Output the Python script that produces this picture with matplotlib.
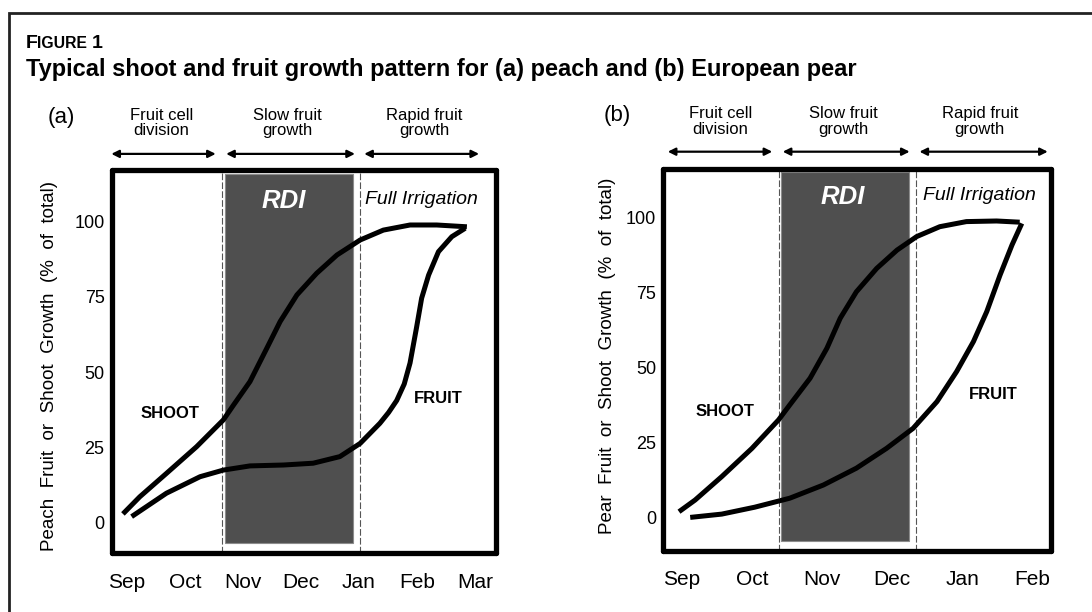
import matplotlib
matplotlib.use('Agg')
import matplotlib.pyplot as plt
from matplotlib.patches import Rectangle

plt.rcParams['font.family'] = ['Liberation Sans', 'DejaVu Sans']

# month labels on the x axes
peach_months = ['Sep', 'Oct', 'Nov', 'Dec', 'Jan', 'Feb', 'Mar']
pear_months = ['Sep', 'Oct', 'Nov', 'Dec', 'Jan', 'Feb']
y_ticks = [0, 25, 50, 75, 100]

# growth curves, % of total, x in months from Sep
peach_shoot_x = [-0.07, 0.22, 0.68, 1.20, 1.66, 1.83, 2.12, 2.41, 2.64, 2.93, 3.27, 3.62, 4.02, 4.42, 4.88, 5.34, 5.86]
peach_shoot_y = [2.7, 8.4, 16.2, 25.1, 34.0, 38.8, 46.8, 57.9, 66.8, 75.7, 82.9, 89.0, 94.0, 97.3, 99.0, 99.0, 98.4]
peach_fruit_x = [0.08, 0.68, 1.26, 1.66, 2.12, 2.70, 3.21, 3.67, 4.02, 4.36, 4.51, 4.65, 4.78, 4.88, 4.99, 5.08, 5.20, 5.37, 5.60, 5.83]
peach_fruit_y = [1.8, 9.6, 15.1, 17.3, 18.7, 19.0, 19.6, 21.8, 26.2, 32.9, 36.5, 40.5, 46.0, 53.0, 64.6, 74.6, 82.3, 90.1, 95.1, 97.9]

pear_shoot_x = [-0.04, 0.19, 0.57, 1.00, 1.38, 1.54, 1.83, 2.07, 2.26, 2.49, 2.78, 3.07, 3.35, 3.68, 4.06, 4.49, 4.82]
pear_shoot_y = [2.0, 5.9, 13.7, 23.1, 32.6, 37.6, 46.5, 56.5, 66.5, 75.3, 83.1, 89.2, 93.7, 97.0, 98.7, 98.9, 98.5]
pear_fruit_x = [0.12, 0.57, 1.04, 1.54, 2.02, 2.49, 2.92, 3.30, 3.64, 3.92, 4.16, 4.35, 4.54, 4.71, 4.85]
pear_fruit_y = [0.1, 1.2, 3.5, 6.5, 10.9, 16.5, 23.1, 29.8, 38.7, 48.7, 58.7, 68.7, 80.9, 90.9, 98.1]

# RDI period and irrigation boundaries (months from Sep)
peach_rdi = (1.69, 3.90)
peach_bounds = (1.64, 4.02)
pear_rdi = (1.415, 3.24)
pear_bounds = (1.38, 3.34)

# growth stages
stage_names = ['Fruit cell\ndivision', 'Slow fruit\ngrowth', 'Rapid fruit\ngrowth']
peach_stages = [(-0.27, 1.53), (1.71, 3.93), (4.09, 6.07)]
pear_stages = [(-0.20, 1.29), (1.44, 3.25), (3.39, 5.22)]

W, H = 1092, 612
fig = plt.figure(figsize=(W / 100, H / 100), dpi=100)

# outer frame (only left and top visible)
fig.patches.append(Rectangle((9 / W, -0.2), 1.2, 1.2 - 12.5 / H, transform=fig.transFigure,
                             fill=False, lw=2, ec='#222222'))

fig.text(26 / W, 1 - 48.5 / H, 'F', fontsize=14, fontweight='bold', va='baseline')
fig.text(37.5 / W, 1 - 48.5 / H, 'IGURE', fontsize=11.3, fontweight='bold', va='baseline')
fig.text(91.5 / W, 1 - 48.5 / H, '1', fontsize=14, fontweight='bold', va='baseline')
fig.text(26 / W, 1 - 76 / H,
         'Typical shoot and fruit growth pattern for (a) peach and (b) European pear',
         fontsize=17, fontweight='bold', va='baseline')


def draw_panel(rect, months, shoot_x, shoot_y, fruit_x, fruit_y, rdi, bounds, stages,
               xlim, ylim, ylabel, ylab_pos, tag, tag_xy, stage_x, stage_y, arrow_y,
               rdi_x, full_x, shoot_lab, fruit_lab, shade_y):
    ax = fig.add_axes(rect)
    ax.set_xlim(*xlim)
    ax.set_ylim(*ylim)
    for s in ax.spines.values():
        s.set_linewidth(3.8)
        s.set_color('black')
        s.set_capstyle('round')
    ax.add_patch(Rectangle((rdi[0], shade_y[0]), rdi[1] - rdi[0], shade_y[1] - shade_y[0],
                           fc='#4f4f4f', ec='#8c8c8c', lw=0.8, zorder=1))
    for b in bounds:
        ax.axvline(b, color='#555555', lw=0.8, ls=(0, (6, 2)), zorder=1)
    for xs, ys in [(shoot_x, shoot_y), (fruit_x, fruit_y)]:
        ax.plot(xs, ys, color='black', lw=3.6, solid_capstyle='butt',
                solid_joinstyle='round', zorder=3)

    ax.set_xticks(range(len(months)))
    ax.set_xticklabels(months, fontsize=15)
    ax.set_yticks(y_ticks)
    ax.set_yticklabels([str(v) for v in y_ticks], fontsize=13)
    ax.tick_params(axis='x', length=0, pad=14)
    ax.tick_params(axis='y', length=0, pad=5)
    ax.set_ylabel(ylabel, fontsize=13.5)
    ax.yaxis.set_label_coords(*ylab_pos)

    ax.text(rdi_x, 107, 'RDI', color='white', fontsize=18.5, fontweight='bold',
            fontstyle='italic', ha='center', va='center', zorder=2)
    ax.text(full_x, 107.5, 'Full Irrigation', fontsize=14, fontstyle='italic',
            ha='center', va='center')
    ax.text(shoot_lab[0], shoot_lab[1], 'SHOOT', fontsize=12, fontweight='bold',
            ha='center', va='center')
    ax.text(fruit_lab[0], fruit_lab[1], 'FRUIT', fontsize=12, fontweight='bold',
            ha='center', va='center')

    for name, (x0, x1), sx in zip(stage_names, stages, stage_x):
        ax.annotate('', xy=(x0, arrow_y), xytext=(x1, arrow_y), annotation_clip=False,
                    arrowprops=dict(arrowstyle='<|-|>', color='black', lw=1.6,
                                    mutation_scale=11, shrinkA=0, shrinkB=0))
        ax.text(sx, stage_y, name, fontsize=12, ha='center', va='center',
                linespacing=1.05, clip_on=False)

    fig.text(tag_xy[0] / W, 1 - tag_xy[1] / H, tag, fontsize=16, ha='center', va='center')
    return ax


draw_panel([111.5 / W, 58.7 / H, 384.5 / W, 383.3 / H], peach_months,
           peach_shoot_x, peach_shoot_y, peach_fruit_x, peach_fruit_y,
           peach_rdi, peach_bounds, peach_stages,
           (-0.267, 6.362), (-10.43, 117.33),
           'Peach  Fruit  or  Shoot  Growth  (%  of  total)', (-0.140, 0.489),
           '(a)', (61, 117), [0.59, 2.76, 5.13], 133, 122.7,
           2.70, 5.07, (0.74, 36.2), (5.37, 41.2), (-7.1, 115.9))

draw_panel([663.3 / W, 61.3 / H, 387.6 / W, 381.7 / H], pear_months,
           pear_shoot_x, pear_shoot_y, pear_fruit_x, pear_fruit_y,
           pear_rdi, pear_bounds, pear_stages,
           (-0.264, 5.265), (-11.0, 116.23),
           'Pear  Fruit  or  Shoot  Growth  (%  of  total)', (-0.123, 0.511),
           '(b)', (617.4, 115), [0.55, 2.31, 4.25], 132, 122,
           2.30, 4.25, (0.62, 35.3), (4.44, 40.9), (-7.8, 115.1))

fig.savefig('out.png', dpi=100)
